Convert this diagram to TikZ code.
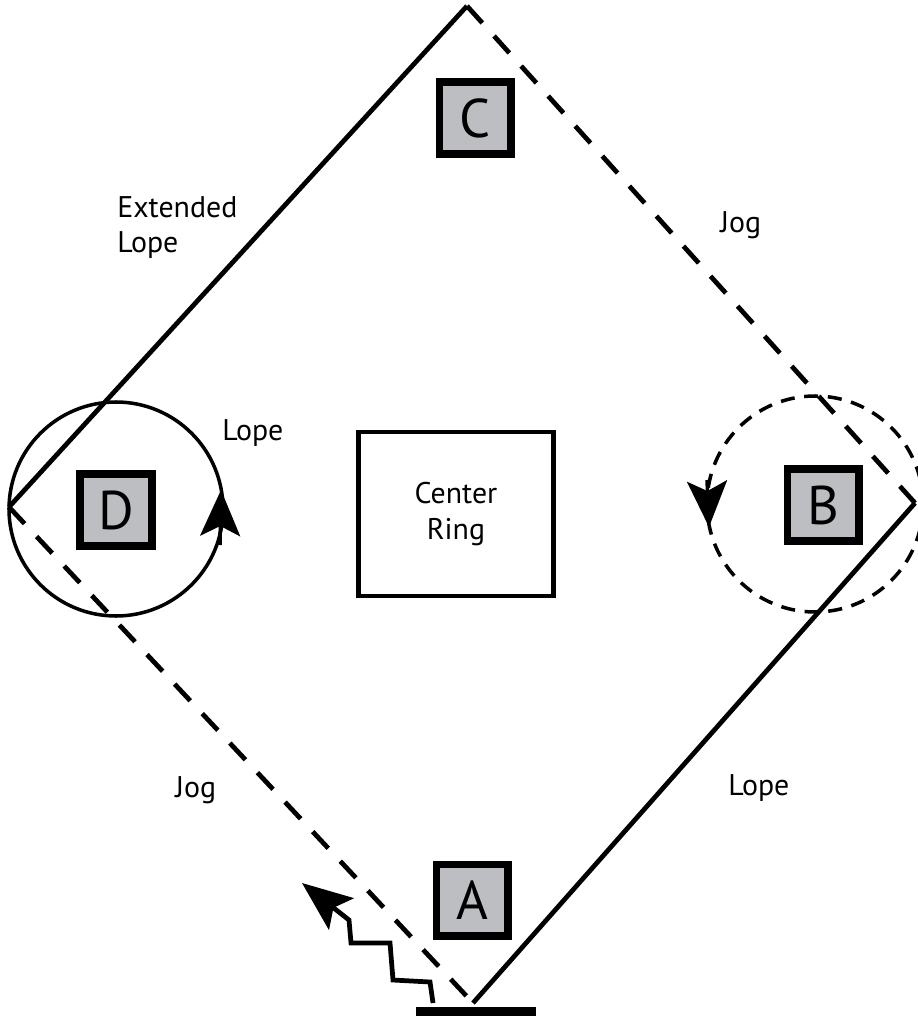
\documentclass[tikz,border=0pt]{standalone}
\usepackage{fontspec}
\setmainfont{PT Sans}
\usetikzlibrary{arrows.meta}
\definecolor{markgray}{RGB}{188,190,193}
\begin{document}
\begin{tikzpicture}[x=0.02cm,y=-0.02cm,
  markbox/.style={draw, line width=4pt, fill=markgray, minimum size=1.44cm, inner sep=0pt, font=\fontsize{31}{33}\selectfont},
  lbl/.style={font=\fontsize{17}{20}\selectfont, inner sep=0pt, anchor=base west, align=left},
  route/.style={line width=2.7pt},
  jogline/.style={route, dash pattern=on 13pt off 10pt},
  turn/.style={line width=2pt},
  bigtip/.style={-{Stealth[length=9.2mm, width=8mm, inset=2mm]}}]
\useasboundingbox (0,0) rectangle (917,1016);
% corners of the pattern
\coordinate (top) at (467,6);
\coordinate (left) at (9,507);
\coordinate (right) at (915,503);
\coordinate (bottom) at (473,1003);
% markers
\node[markbox] (A) at (472,900) {A};
\node[markbox] (B) at (823,505) {B};
\node[markbox] (C) at (475,118) {C};
\node[markbox] (D) at (116,510) {D};
\node[draw, line width=2.5pt, minimum width=3.9cm, minimum height=3.28cm, align=center, font=\fontsize{17}{20}\selectfont] (ring) at (456,514) {Center\\Ring};
% gate
\node[fill=black, minimum width=2.42cm, minimum height=0.3cm, inner sep=0pt] (gate) at (476,1014) {};
% circles
\path[draw,turn] (116,509) circle (107);
\path[draw,turn,dash pattern=on 8pt off 5.5pt] (815,504) circle (108);
\path[draw,turn,bigtip] (220,545) -- (221,490);
\path[draw,turn,bigtip] (707,480) -- (709,527);
% the route
\path[draw,route] (left) -- (top);
\path[draw,jogline] (top) -- (right);
\path[draw,route] (right) -- (bottom);
\path[draw,jogline] (left) -- (bottom);
\coordinate (exit) at (433,1003);
\coordinate (goal) at (302,883);
\path[draw,route,-{Stealth[length=1cm, width=8mm, inset=2mm]}] (exit) -- (430,982) -- (393,980) -- (390,943) -- (351,943) -- (349,920) -- (goal);
% labels
\node[lbl] (ext) at (117,253) {Extended\\Lope};
\node[lbl] (jog1) at (720,233) {Jog};
\node[lbl] (jog2) at (175,797) {Jog};
\node[lbl] (lope1) at (222,440) {Lope};
\node[lbl] (lope2) at (728,795) {Lope};
\end{tikzpicture}
\end{document}
